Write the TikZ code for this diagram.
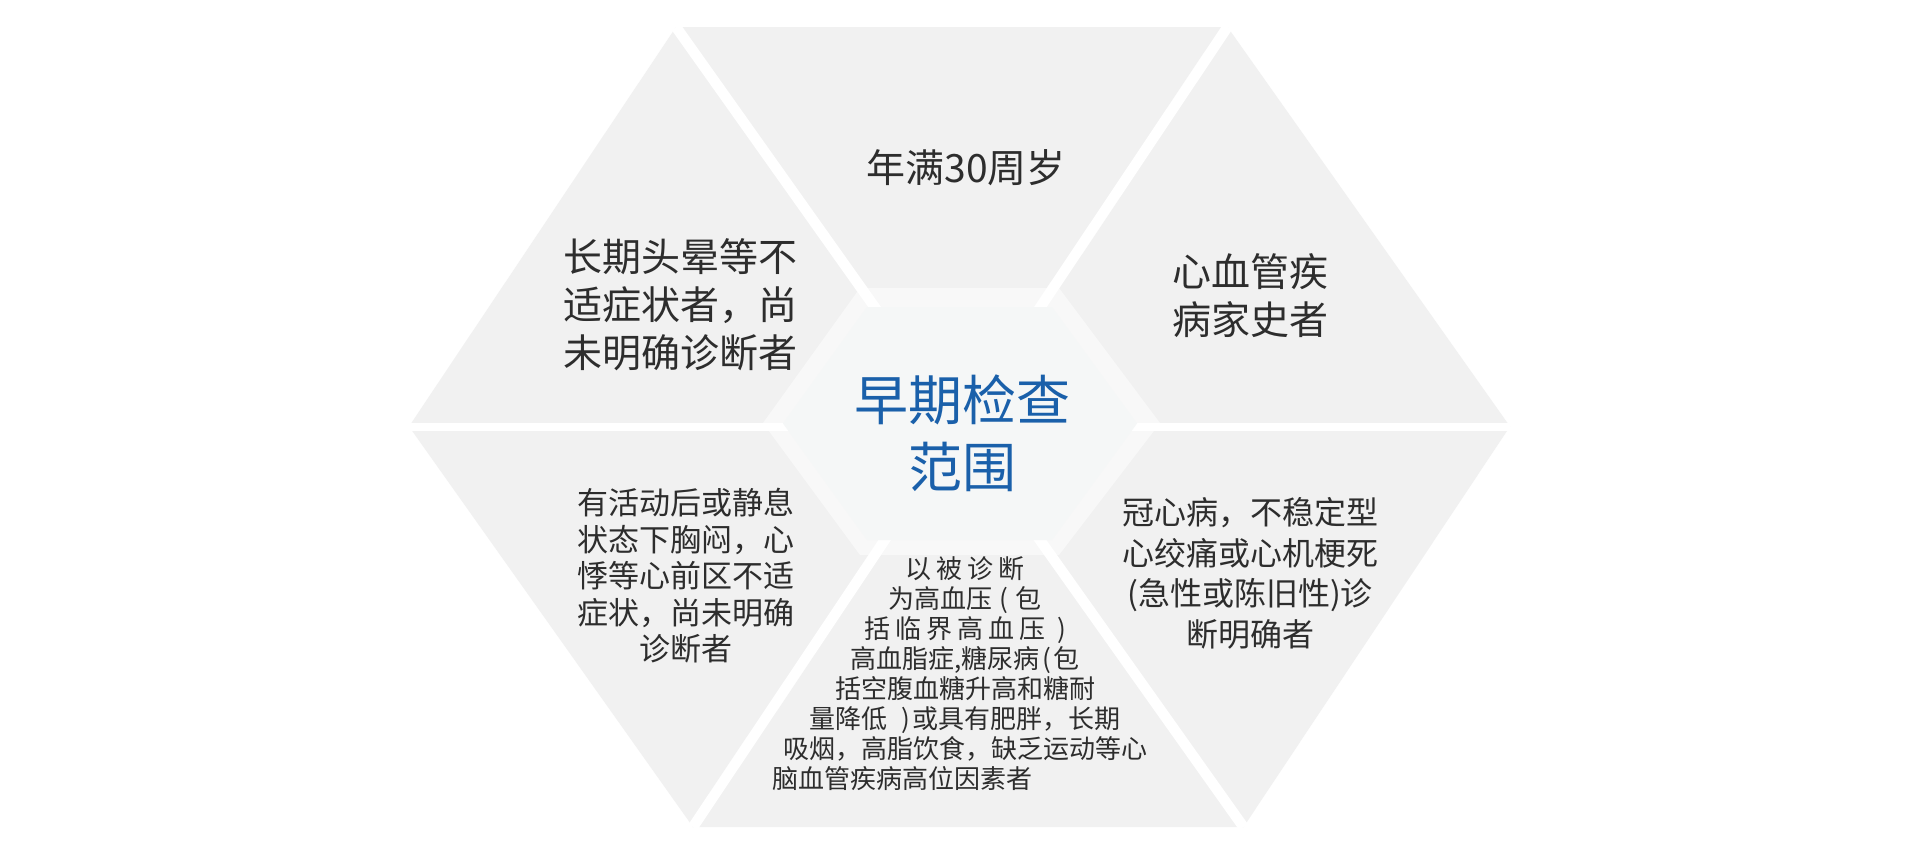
\documentclass[tikz,border=0pt]{standalone}
\usepackage{fontspec}
\newfontfamily\cjk{Noto Sans CJK SC}
\definecolor{piece}{RGB}{241,241,241}
\definecolor{inner}{RGB}{245,247,247}
\definecolor{txtgray}{RGB}{45,45,45}
\definecolor{titleblue}{RGB}{26,96,170}
\tikzset{
  txt/.style={text=txtgray, align=center, inner sep=0pt},
  big/.style={font={\cjk\fontsize{39}{48}\selectfont}},
  mid/.style={font={\cjk\fontsize{31}{36.5}\selectfont}},
  midb/.style={font={\cjk\fontsize{32}{40.5}\selectfont}},
  small/.style={font={\cjk\fontsize{26}{30}\selectfont}},
  title/.style={text=titleblue, align=center, inner sep=0pt, font={\cjk\fontsize{54}{67}\selectfont}},
  gap/.style={white, line width=10.5pt},
}
\begin{document}
\begin{tikzpicture}[x=1pt,y=-1pt]
\useasboundingbox (0,0) rectangle (1920,855);
\fill[white] (0,0) rectangle (1920,855);
% outer hexagon vertices
\coordinate (C) at (959.5,426.5);
\coordinate (L) at (409,426.5);
\coordinate (TL) at (676,27);
\coordinate (TR) at (1227.5,27);
\coordinate (R) at (1510,426.5);
\coordinate (BR) at (1243.5,827);
\coordinate (BL) at (693,827);
\fill[piece] (L) -- (TL) -- (TR) -- (R) -- (BR) -- (BL) -- cycle;
% white gaps
\draw[gap] (TL) -- (BR);
\draw[gap] (TR) -- (BL);
\draw[gap, line width=8pt] (L) -- (R);
% centre ring and hexagon
\fill[white, opacity=0.5] (763,423) -- (860,288) -- (1059,288) -- (1160,423) -- (1059,555) -- (860,555) -- cycle;
\fill[inner] (783,423.5) -- (867,307) -- (1052,307) -- (1137,423.5) -- (1052,540) -- (867,540) -- cycle;
% texts
\node[txt, big] (top) at (966,168) {年满30周岁};
\node[txt, big] (ul) at (680,305) {长期头晕等不\\适症状者，尚\\未明确诊断者};
\node[txt, big] (ur) at (1250,295.5) {心血管疾\\病家史者};
\node[title] (ctr) at (962,433.5) {早期检查\\范围};
\node[txt, mid] (ll) at (686,576) {有活动后或静息\\状态下胸闷，心\\悸等心前区不适\\症状，尚未明确\\诊断者};
\node[txt, midb] (lr) at (1250,573.5) {冠心病，不稳定型\\心绞痛或心机梗死\\(急性或陈旧性)诊\\断明确者};
\node[txt, small] (bt) at (965,674) {以\hspace{5pt}被\hspace{5pt}诊\hspace{5pt}断\\为高血压\hspace{7pt}(\hspace{7pt}包\\括\hspace{5pt}临\hspace{5pt}界\hspace{5pt}高\hspace{5pt}血\hspace{5pt}压\hspace{12pt})\\高血脂症,糖尿病\hspace{3pt}(\hspace{3pt}包\\括空腹血糖升高和糖耐\\量降低\hspace{14pt})\hspace{3pt}或具有肥胖，长期\\吸烟，高脂饮食，缺乏运动等心\\脑血管疾病高位因素者\hspace*{126pt}};
\end{tikzpicture}
\end{document}
